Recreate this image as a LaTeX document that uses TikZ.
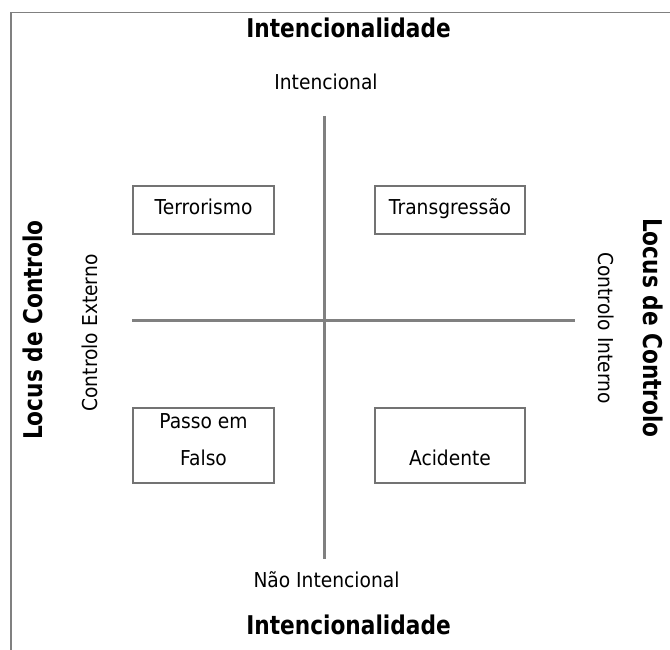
\documentclass[tikz,border=0pt]{standalone}
\usepackage{fontspec}
\setmainfont{DejaVu Sans}[FakeStretch=0.91]
\newfontfamily\titlefont{DejaVu Sans}[FakeStretch=0.84]
\definecolor{axisgray}{RGB}{128,128,128}
\definecolor{boxgray}{RGB}{115,115,115}
\begin{document}
\begin{tikzpicture}[x=1bp,y=-1bp,
  frame/.style={draw=axisgray, line width=1.6bp},
  axis/.style={draw=axisgray, line width=3bp},
  box/.style={draw=boxgray, line width=1.8bp, inner sep=0pt},
  lbl/.style={font=\fontsize{20.5bp}{24bp}\selectfont, inner sep=0pt, anchor=base},
  ttl/.style={font=\titlefont\bfseries\fontsize{25.8bp}{30bp}\selectfont, inner sep=0pt, anchor=base}]
\useasboundingbox (0,0) rectangle (670,650);
% partial frame
\coordinate (fbl) at (11,650);
\coordinate (ftl) at (11,12.5);
\coordinate (ftr) at (670,12.5);
\draw[frame] (fbl) -- (ftl) -- (ftr);
% axes
\coordinate (vt) at (324.5,116);
\coordinate (vb) at (324.5,559);
\coordinate (hl) at (132,320);
\coordinate (hr) at (575,320);
\draw[axis] (vt) -- (vb);
\draw[axis] (hl) -- (hr);
% titles
\node[ttl] (ttop) at (348.5,38) {Intencionalidade};
\node[ttl] (tbot) at (348.5,634) {Intencionalidade};
\node[ttl, rotate=90] (tleft) at (42,330) {Locus de Controlo};
\node[ttl, rotate=-90] (tright) at (643,328) {Locus de Controlo};
% axis labels
\node[lbl] (ltop) at (326,90) {Intencional};
\node[lbl] (lbot) at (326.5,587) {Não Intencional};
\node[lbl, rotate=90] (lleft) at (97,333) {Controlo Externo};
\node[lbl, rotate=-90] (lright) at (598,328) {Controlo Interno};
% boxes
\node[box, minimum width=141bp, minimum height=48bp] (terr) at (203.5,210) {};
\node[box, minimum width=150bp, minimum height=48bp] (trans) at (450,210) {};
\node[box, minimum width=141bp, minimum height=75bp] (passo) at (203.5,445.5) {};
\node[box, minimum width=150bp, minimum height=75bp] (acid) at (450,445.5) {};
\node[lbl] (terrt) at (203.5,214.5) {Terrorismo};
\node[lbl] (transt) at (450,214.5) {Transgressão};
\node[lbl] (passot1) at (203.5,428) {Passo em};
\node[lbl] (passot2) at (203.5,465) {Falso};
\node[lbl] (acidt) at (450,465) {Acidente};
\end{tikzpicture}
\end{document}
